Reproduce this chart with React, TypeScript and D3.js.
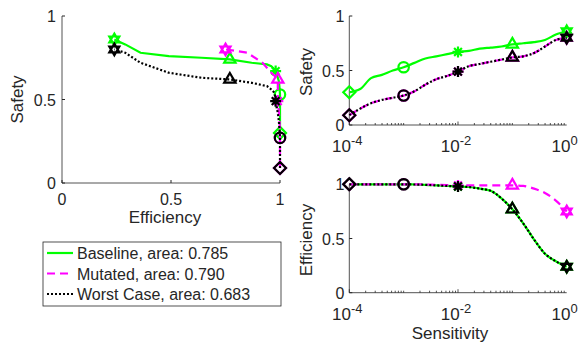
import { useEffect, useRef } from "react"
import * as d3 from "d3"

// sensitivity grid (log10), step 0.2 decades
const logSens = [-4, -3.8, -3.6, -3.4, -3.2, -3, -2.8, -2.6, -2.4, -2.2, -2, -1.8, -1.6, -1.4, -1.2, -1, -0.8, -0.6, -0.4, -0.2, 0]

const baselineSafety = [0.3, 0.33, 0.43, 0.46, 0.5, 0.53, 0.57, 0.61, 0.63, 0.65, 0.67, 0.68, 0.7, 0.71, 0.72, 0.74, 0.75, 0.76, 0.78, 0.83, 0.86]
const mutatedSafety = [0.09, 0.15, 0.2, 0.23, 0.25, 0.27, 0.31, 0.37, 0.42, 0.45, 0.49, 0.54, 0.56, 0.58, 0.6, 0.62, 0.63, 0.66, 0.72, 0.78, 0.8]
const worstSafety = [0.09, 0.15, 0.2, 0.23, 0.25, 0.27, 0.31, 0.37, 0.42, 0.45, 0.49, 0.54, 0.56, 0.58, 0.6, 0.62, 0.63, 0.66, 0.72, 0.78, 0.8]

const baselineEff = [1, 1, 1, 1, 1, 1, 0.998, 0.995, 0.99, 0.985, 0.98, 0.975, 0.96, 0.94, 0.87, 0.77, 0.64, 0.49, 0.36, 0.29, 0.24]
const mutatedEff = [1, 1, 1, 1, 1, 1, 1, 0.998, 0.995, 0.993, 0.99, 0.99, 0.99, 0.99, 0.99, 0.99, 0.985, 0.96, 0.92, 0.85, 0.75]
const worstEff = [1, 1, 1, 1, 1, 1, 0.998, 0.995, 0.99, 0.985, 0.98, 0.975, 0.96, 0.94, 0.87, 0.77, 0.64, 0.49, 0.36, 0.29, 0.24]

// markers sit on the decades 1e-4 .. 1e0
const markerIdx = [0, 5, 10, 15, 20]
const markerShapes = ["diamond", "circle", "asterisk", "triangle", "hexagram"]

const seriesNames = ["Baseline", "Mutated", "Worst Case"]
const seriesAreas = ["0.785", "0.790", "0.683"]

const leftTicks = [0, 0.5, 1]
const logMajor = [1e-4, 1e-2, 1]
const logExp = ["-4", "-2", "0"]

const FONT = "'Liberation Sans', Arial, Helvetica, sans-serif"
const AX = "#262626"

const markerPath = (shape) => {
  const p = d3.path()
  if (shape === "diamond") {
    const r = 6
    p.moveTo(0, -r); p.lineTo(r, 0); p.lineTo(0, r); p.lineTo(-r, 0); p.closePath()
  } else if (shape === "circle") {
    p.arc(0, 0, 5.2, 0, Math.PI * 2); p.closePath()
  } else if (shape === "triangle") {
    const r = 6.5
    p.moveTo(0, -r); p.lineTo(r * 0.87, r * 0.5); p.lineTo(-r * 0.87, r * 0.5); p.closePath()
  } else if (shape === "asterisk") {
    const r = 5.5
    for (let k = 0; k < 4; k++) {
      const a = (k * Math.PI) / 4
      p.moveTo(-r * Math.cos(a), -r * Math.sin(a))
      p.lineTo(r * Math.cos(a), r * Math.sin(a))
    }
  } else {
    const r = 5.8
    for (let t = 0; t < 2; t++) {
      const off = t === 0 ? -Math.PI / 2 : Math.PI / 2
      for (let k = 0; k < 3; k++) {
        const a = off + (k * 2 * Math.PI) / 3
        if (k === 0) p.moveTo(r * Math.cos(a), r * Math.sin(a))
        else p.lineTo(r * Math.cos(a), r * Math.sin(a))
      }
      p.closePath()
    }
  }
  return p.toString()
}

const App = () => {
  const svgRef = useRef(null)

  useEffect(() => {
    const svg = d3.select(svgRef.current)
    svg.selectAll("*").remove()

    const series = [
      { name: seriesNames[0], area: seriesAreas[0], safety: baselineSafety, eff: baselineEff, color: "#00ff00", dash: null },
      { name: seriesNames[1], area: seriesAreas[1], safety: mutatedSafety, eff: mutatedEff, color: "#ff00ff", dash: "8,5" },
      { name: seriesNames[2], area: seriesAreas[2], safety: worstSafety, eff: worstEff, color: "#000000", dash: "2,2" },
    ]

    const text = (g, x, y, s, anchor = "middle", size = 16) =>
      g.append("text").attr("x", x).attr("y", y).attr("text-anchor", anchor)
        .style("font-family", FONT).style("font-size", size + "px").style("fill", AX).text(s)

    // ---------- left panel: Safety vs Efficiency ----------
    const xL = d3.scaleLinear().domain([0, 1]).range([62, 280])
    const yL = d3.scaleLinear().domain([0, 1]).range([183, 16])

    const gL = svg.append("g")
    gL.append("path").attr("d", `M${xL(0)},${yL(1)}V${yL(0)}H${xL(1)}`).attr("fill", "none").attr("stroke", AX).attr("stroke-width", 0.8)
    leftTicks.forEach((t) => {
      gL.append("line").attr("x1", xL(0)).attr("x2", xL(0) + 3).attr("y1", yL(t)).attr("y2", yL(t)).attr("stroke", AX)
      gL.append("line").attr("x1", xL(t)).attr("x2", xL(t)).attr("y1", yL(0)).attr("y2", yL(0) - 3).attr("stroke", AX)
      text(gL, xL(0) - 6, yL(t) + 6, String(t), "end")
      text(gL, xL(t), yL(0) + 22, String(t))
    })
    text(gL, 165, 223, "Efficiency", "middle", 17)
    text(gL, 0, 0, "Safety", "middle", 17).attr("transform", `translate(23,${(yL(0) + yL(1)) / 2}) rotate(-90)`)

    const lineL = d3.line().x((d) => xL(d[0])).y((d) => yL(d[1]))
    series.forEach((s) => {
      const pts = s.eff.map((e, i) => [e, s.safety[i]])
      gL.append("path").attr("d", lineL(pts)).attr("fill", "none").attr("stroke", s.color)
        .attr("stroke-width", 2.2).attr("stroke-dasharray", s.dash)
      markerIdx.forEach((idx, k) => {
        gL.append("path").attr("d", markerPath(markerShapes[k]))
          .attr("transform", `translate(${xL(s.eff[idx])},${yL(s.safety[idx])})`)
          .attr("fill", "none").attr("stroke", s.color).attr("stroke-width", 2.2)
      })
    })

    // ---------- right panels: vs Sensitivity ----------
    const xR = d3.scaleLog().domain([1e-4, 1]).range([349.3, 566.7])
    const panels = [
      { key: "safety", label: "Safety", y: d3.scaleLinear().domain([0, 1]).range([125, 16]), labelY: 72 },
      { key: "eff", label: "Efficiency", y: d3.scaleLinear().domain([0, 1]).range([292.7, 184.3]), labelY: 240 },
    ]

    panels.forEach((pn, pi) => {
      const g = svg.append("g")
      const y = pn.y
      g.append("path").attr("d", `M${xR(1e-4)},${y(1)}V${y(0)}H${xR(1)}`).attr("fill", "none").attr("stroke", AX).attr("stroke-width", 0.8)
      leftTicks.forEach((t) => {
        g.append("line").attr("x1", xR(1e-4)).attr("x2", xR(1e-4) + 3).attr("y1", y(t)).attr("y2", y(t)).attr("stroke", AX)
        text(g, xR(1e-4) - 5, y(t) + 6, String(t), "end")
      })
      // log ticks
      for (let dec = -4; dec < 0; dec++) {
        for (let m = 1; m < 10; m++) {
          const v = m * Math.pow(10, dec)
          const major = m === 1 && dec % 2 === 0
          g.append("line").attr("x1", xR(v)).attr("x2", xR(v)).attr("y1", y(0)).attr("y2", y(0) - (major ? 3.5 : 2))
            .attr("stroke", AX).attr("stroke-width", 0.8)
        }
      }
      logMajor.forEach((v, i) => {
        const t = g.append("text").attr("x", xR(v) - 2).attr("y", y(0) + 27).attr("text-anchor", "middle")
          .style("font-family", FONT).style("font-size", "17px").style("fill", AX)
        t.append("tspan").text("10")
        t.append("tspan").attr("dy", -7).style("font-size", "13px").text(logExp[i])
      })
      text(g, 0, 0, pn.label, "middle", 17).attr("transform", `translate(312,${pn.labelY}) rotate(-90)`)
      if (pi === 1) text(g, 450, 339, "Sensitivity", "middle", 17)

      const line = d3.line().x((d) => xR(d[0])).y((d) => y(d[1])).curve(d3.curveMonotoneX)
      series.forEach((s) => {
        const vals = s[pn.key]
        const pts = logSens.map((l, i) => [Math.pow(10, l), vals[i]])
        g.append("path").attr("d", line(pts)).attr("fill", "none").attr("stroke", s.color)
          .attr("stroke-width", 2.2).attr("stroke-dasharray", s.dash)
        markerIdx.forEach((idx, k) => {
          g.append("path").attr("d", markerPath(markerShapes[k]))
            .attr("transform", `translate(${xR(Math.pow(10, logSens[idx]))},${y(vals[idx])})`)
            .attr("fill", "none").attr("stroke", s.color).attr("stroke-width", 2.2)
        })
      })
    })

    // ---------- legend ----------
    const lg = svg.append("g")
    lg.append("rect").attr("x", 43).attr("y", 242).attr("width", 238).attr("height", 64)
      .attr("fill", "white").attr("stroke", AX).attr("stroke-width", 0.8)
    series.forEach((s, i) => {
      const yy = 253 + i * 20.5
      lg.append("line").attr("x1", 47).attr("x2", 73).attr("y1", yy).attr("y2", yy)
        .attr("stroke", s.color).attr("stroke-width", 2.2).attr("stroke-dasharray", s.dash)
      text(lg, 77, yy + 6, `${s.name}, area: ${s.area}`, "start", 16)
    })
  }, [])

  return (
    <div style={{ position: "fixed", left: 0, top: 0, width: 578, height: 343, background: "white", overflow: "hidden" }}>
      <svg ref={svgRef} width={578} height={343} style={{ display: "block" }}></svg>
    </div>
  )
}

export default App
